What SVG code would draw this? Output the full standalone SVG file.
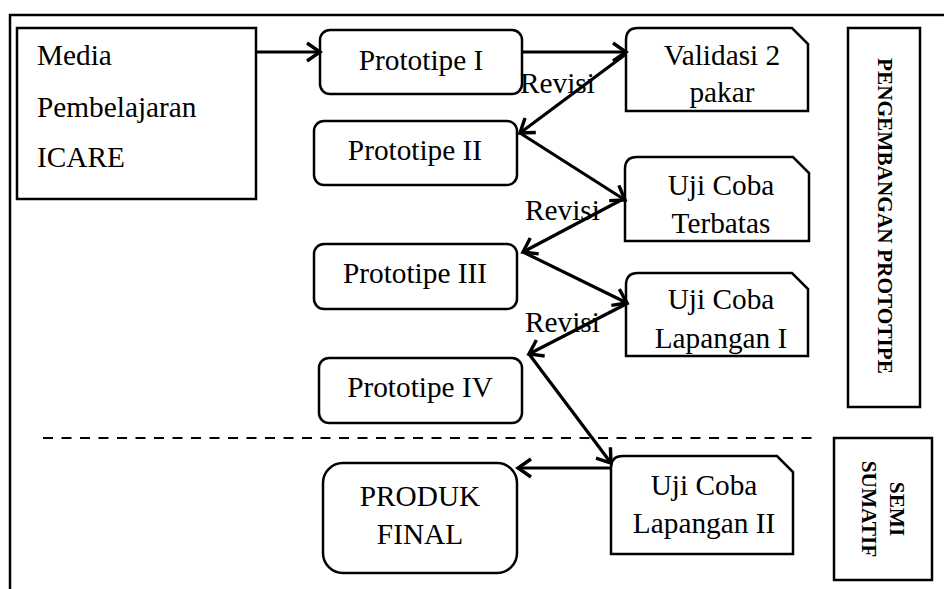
<svg xmlns="http://www.w3.org/2000/svg" width="944" height="589" viewBox="0 0 944 589">
<style>
.box{fill:#fff;stroke:#000;stroke-width:2.5}
.t{font-family:"Liberation Serif","Times New Roman",serif;font-size:29.3px;fill:#000}
.c{text-anchor:middle}
.v{font-family:"Liberation Serif","Times New Roman",serif;font-size:21.3px;font-weight:bold;fill:#000;text-anchor:middle}
.con{fill:none;stroke:#000;stroke-width:3.2;marker-end:url(#arr)}
</style>
<defs>
<marker id="arr" markerUnits="userSpaceOnUse" markerWidth="20" markerHeight="22" viewBox="0 0 20 22" refX="16" refY="11" orient="auto">
<path d="M3,2 L16,11 L3,20" fill="none" stroke="#000" stroke-width="3.4" stroke-linejoin="miter"/>
</marker>
</defs>
<rect width="944" height="589" fill="#fff"/>
<g id="frame">
<path d="M10,589 L10,15 L944,15" fill="none" stroke="#000" stroke-width="2.5"/>
<line x1="43" y1="438" x2="818" y2="438" stroke="#000" stroke-width="2" stroke-dasharray="10 8.5"/>
</g>
<g id="media">
<rect class="box" x="17" y="28" width="239" height="171"/>
<text class="t" x="37" y="65">Media</text>
<text class="t" x="37" y="117">Pembelajaran</text>
<text class="t" x="37" y="167">ICARE</text>
</g>
<g id="p1">
<rect class="box" x="320" y="30" width="202" height="64" rx="10"/>
<text class="t c" x="421" y="70">Prototipe I</text>
</g>
<g id="p2">
<rect class="box" x="314" y="121" width="203" height="64" rx="10"/>
<text class="t c" x="415" y="160">Prototipe II</text>
</g>
<g id="p3">
<rect class="box" x="314" y="244" width="203" height="65" rx="10"/>
<text class="t c" x="415" y="283">Prototipe III</text>
</g>
<g id="p4">
<rect class="box" x="319" y="358" width="203" height="65" rx="10"/>
<text class="t c" x="420" y="397">Prototipe IV</text>
</g>
<g id="final">
<rect class="box" x="323" y="463" width="194" height="110" rx="20"/>
<text class="t c" x="420" y="506">PRODUK</text>
<text class="t c" x="420" y="544">FINAL</text>
</g>
<g id="validasi">
<path class="box" d="M626,111 L626,40 Q626,28 638,28 L792,28 L808,44 L808,111 Z"/>
<text class="t c" x="722" y="65">Validasi 2</text>
<text class="t c" x="722" y="102">pakar</text>
</g>
<g id="terbatas">
<path class="box" d="M625,241 L625,169 Q625,157 637,157 L793,157 L809,173 L809,241 Z"/>
<text class="t c" x="721" y="195">Uji Coba</text>
<text class="t c" x="721" y="233">Terbatas</text>
</g>
<g id="lapangan1">
<path class="box" d="M626,356 L626,285 Q626,273 638,273 L792,273 L808,289 L808,356 Z"/>
<text class="t c" x="721" y="309">Uji Coba</text>
<text class="t c" x="721" y="348">Lapangan I</text>
</g>
<g id="lapangan2">
<path class="box" d="M611,554 L611,468 Q611,456 623,456 L777,456 L793,472 L793,554 Z"/>
<text class="t c" x="704" y="495">Uji Coba</text>
<text class="t c" x="704" y="533">Lapangan II</text>
</g>
<g id="pengembangan">
<rect class="box" x="848" y="28" width="72" height="379"/>
<text class="v" transform="translate(878,216) rotate(90)" x="0" y="0">PENGEMBANGAN PROTOTIPE</text>
</g>
<g id="semisumatif">
<rect class="box" x="834" y="438" width="98" height="142"/>
<text class="v" transform="translate(890,509) rotate(90)" x="0" y="0">SEMI</text>
<text class="v" transform="translate(890,509) rotate(90)" x="0" y="28">SUMATIF</text>
</g>
<g id="connectors">
<line class="con" x1="256" y1="52" x2="320" y2="52"/>
<line class="con" x1="522" y1="52" x2="626" y2="52"/>
<line class="con" x1="626" y1="54" x2="520" y2="133"/>
<line class="con" x1="520" y1="133" x2="625" y2="200"/>
<line class="con" x1="625" y1="198" x2="523" y2="252"/>
<line class="con" x1="523" y1="252" x2="627" y2="303"/>
<line class="con" x1="628" y1="303" x2="529" y2="354"/>
<line class="con" x1="529" y1="354" x2="611" y2="463"/>
<line class="con" x1="612" y1="468" x2="518" y2="468"/>
<text class="t" x="520" y="93">Revisi</text>
<text class="t" x="525" y="220">Revisi</text>
<text class="t" x="525" y="332">Revisi</text>
</g>
</svg>
